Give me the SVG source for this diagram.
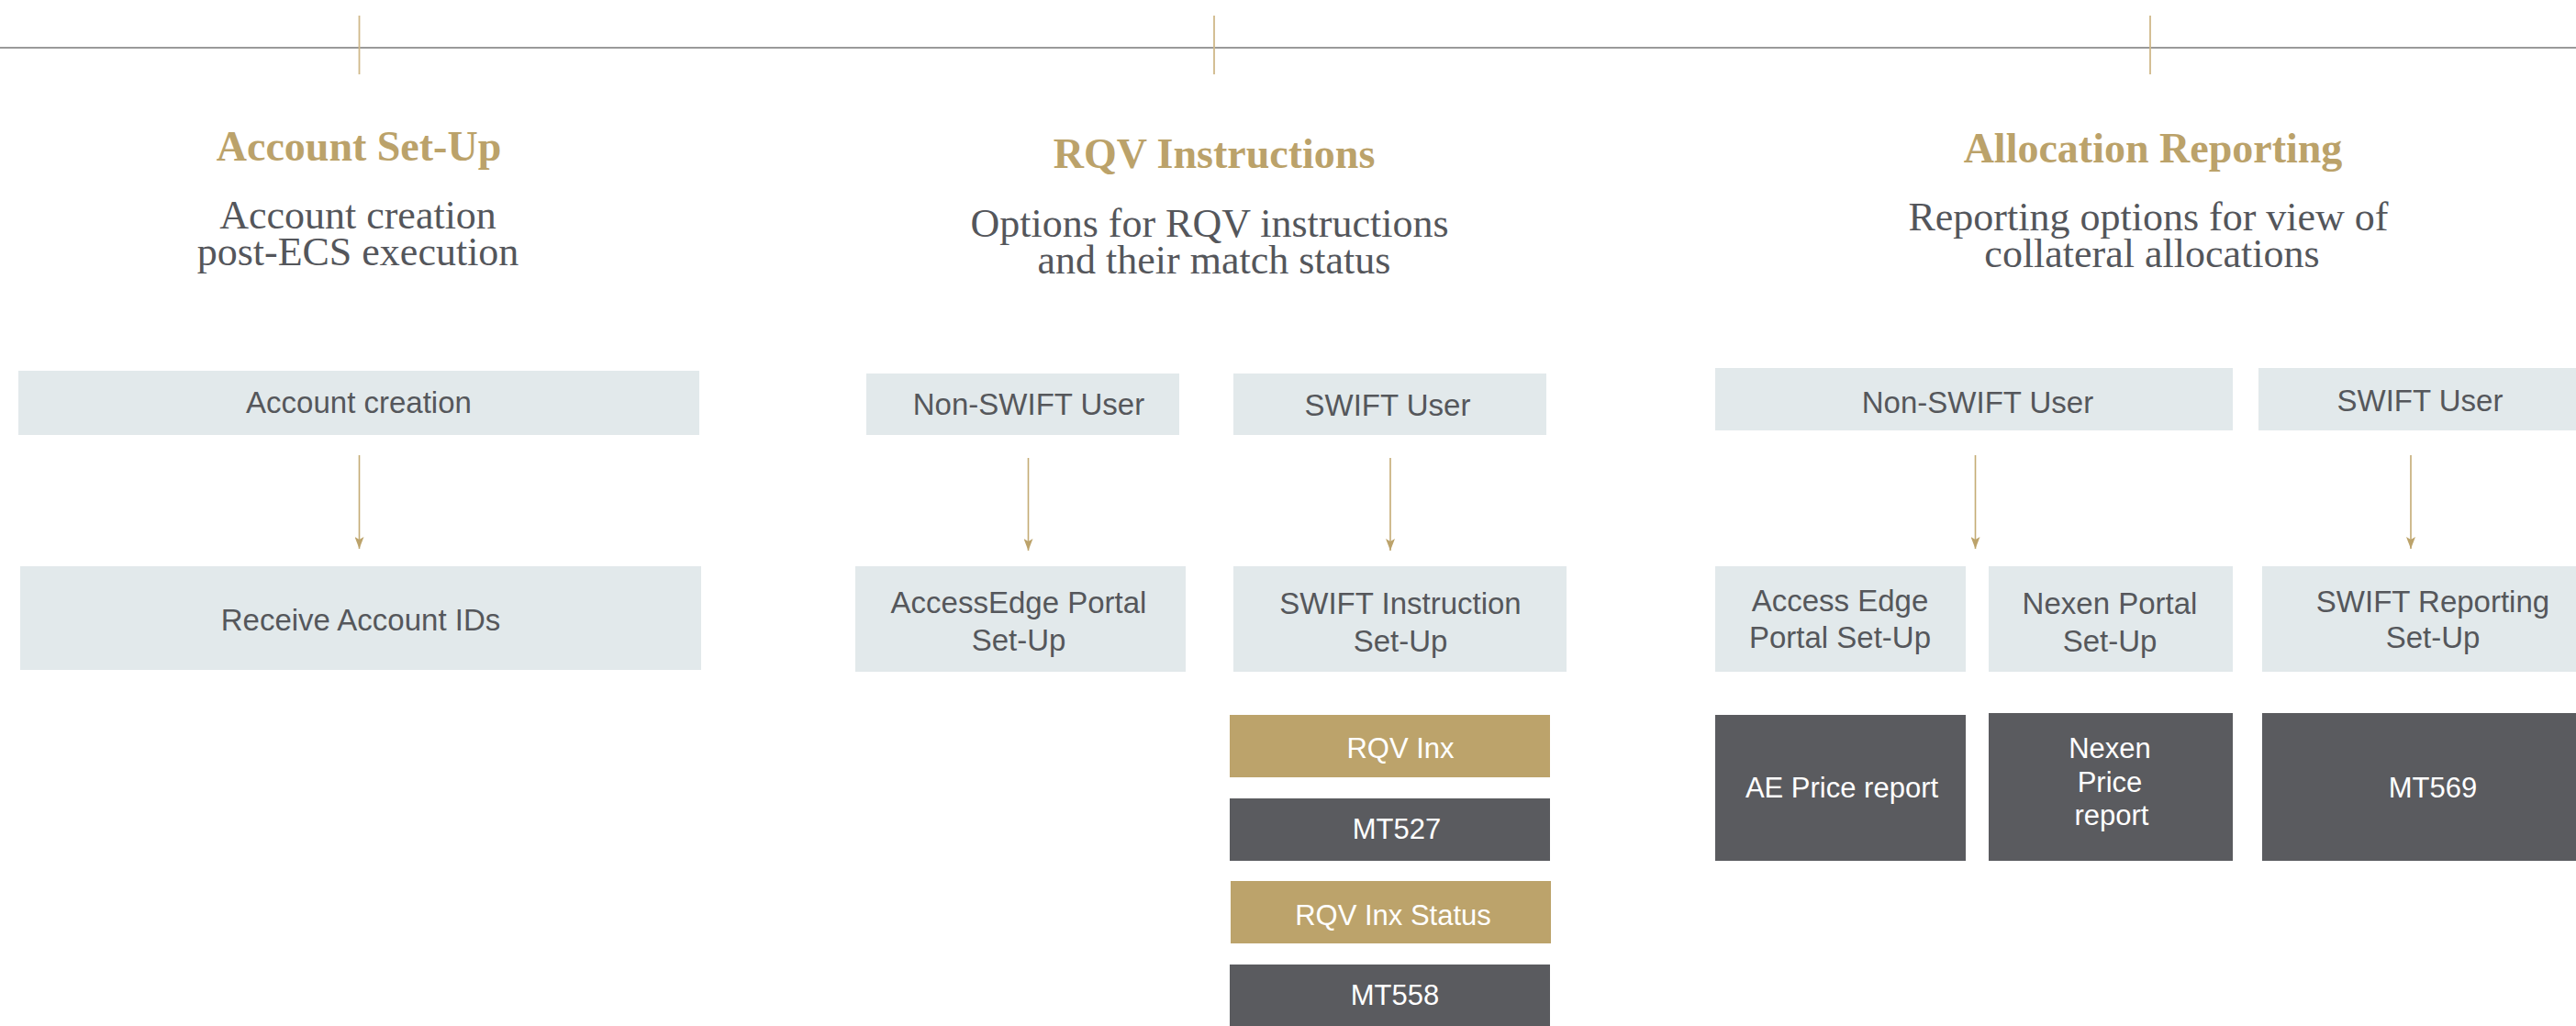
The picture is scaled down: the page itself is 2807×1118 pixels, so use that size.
<svg xmlns="http://www.w3.org/2000/svg" width="2807" height="1118" viewBox="0 0 2807 1118">
<style>
.bg{fill:#ffffff}
.title{font-family:"Liberation Serif","Times New Roman",serif;font-weight:bold;font-size:46px;fill:#BBA26A;text-anchor:middle}
.sub{font-family:"Liberation Serif","Times New Roman",serif;font-size:44px;fill:#54565B;text-anchor:middle}
.light{fill:#E2E9EB}
.gold{fill:#BCA36B}
.dark{fill:#5A5B5F}
.lt{font-family:"Liberation Sans",Arial,sans-serif;font-size:33px;fill:#55575B;text-anchor:middle}
.wt{font-family:"Liberation Sans",Arial,sans-serif;font-size:31px;fill:#ffffff;text-anchor:middle}
.conn{stroke:#C4AB74;stroke-width:1.6;fill:none}
.tick{stroke:#D0B889;stroke-width:1.8;fill:none}
.rule{stroke:#9A9A9A;stroke-width:2;fill:none}
</style>
<defs>
<marker id="arr" viewBox="0 0 13 10" refX="13" refY="5" markerWidth="13" markerHeight="10" markerUnits="userSpaceOnUse" orient="auto">
<path d="M0,0 L13,5 L0,10 L3,5 Z" fill="#BCA36B"/>
</marker>
</defs>
<rect class="bg" x="0" y="0" width="2807" height="1118"/>

<g id="timeline">
<line class="rule" x1="0" y1="52" x2="2807" y2="52"/>
<line class="tick" x1="391.5" y1="17" x2="391.5" y2="81"/>
<line class="tick" x1="1323" y1="17" x2="1323" y2="81"/>
<line class="tick" x1="2343" y1="17" x2="2343" y2="81"/>
</g>

<g id="heading-account">
<text class="title" x="391" y="175">Account Set-Up</text>
<text class="sub"><tspan x="390" y="249">Account creation</tspan><tspan x="390" y="289">post-ECS execution</tspan></text>
</g>
<g id="heading-rqv">
<text class="title" x="1323" y="183">RQV Instructions</text>
<text class="sub"><tspan x="1318" y="258">Options for RQV instructions</tspan><tspan x="1323" y="298">and their match status</tspan></text>
</g>
<g id="heading-alloc">
<text class="title" x="2346" y="177">Allocation Reporting</text>
<text class="sub"><tspan x="2341" y="251">Reporting options for view of</tspan><tspan x="2345" y="291">collateral allocations</tspan></text>
</g>

<g id="connectors">
<line class="conn" x1="391.5" y1="496" x2="391.5" y2="598" marker-end="url(#arr)"/>
<line class="conn" x1="1120.5" y1="499" x2="1120.5" y2="600" marker-end="url(#arr)"/>
<line class="conn" x1="1515" y1="499" x2="1515" y2="600" marker-end="url(#arr)"/>
<line class="conn" x1="2152.5" y1="496" x2="2152.5" y2="598" marker-end="url(#arr)"/>
<line class="conn" x1="2627" y1="496" x2="2627" y2="598" marker-end="url(#arr)"/>
</g>

<g id="account-creation">
<rect class="light" x="20" y="404" width="742" height="70"/>
<text class="lt" x="391" y="450">Account creation</text>
</g>
<g id="receive-account-ids">
<rect class="light" x="22" y="617" width="742" height="113"/>
<text class="lt" x="393" y="687">Receive Account IDs</text>
</g>

<g id="rqv-non-swift-user">
<rect class="light" x="944" y="407" width="341" height="67"/>
<text class="lt" x="1121" y="452">Non-SWIFT User</text>
</g>
<g id="rqv-swift-user">
<rect class="light" x="1344" y="407" width="341" height="67"/>
<text class="lt" x="1512" y="453">SWIFT User</text>
</g>
<g id="accessedge-portal-setup">
<rect class="light" x="932" y="617" width="360" height="115"/>
<text class="lt"><tspan x="1110" y="668">AccessEdge Portal</tspan><tspan x="1110" y="709">Set-Up</tspan></text>
</g>
<g id="swift-instruction-setup">
<rect class="light" x="1344" y="617" width="363" height="115"/>
<text class="lt"><tspan x="1526" y="669">SWIFT Instruction</tspan><tspan x="1526" y="710">Set-Up</tspan></text>
</g>
<g id="rqv-inx">
<rect class="gold" x="1340" y="779" width="349" height="68"/>
<text class="wt" x="1526" y="826">RQV Inx</text>
</g>
<g id="mt527">
<rect class="dark" x="1340" y="870" width="349" height="68"/>
<text class="wt" x="1522" y="914">MT527</text>
</g>
<g id="rqv-inx-status">
<rect class="gold" x="1341" y="960" width="349" height="68"/>
<text class="wt" x="1518" y="1008">RQV Inx Status</text>
</g>
<g id="mt558">
<rect class="dark" x="1340" y="1051" width="349" height="67"/>
<text class="wt" x="1520" y="1095">MT558</text>
</g>

<g id="alloc-non-swift-user">
<rect class="light" x="1869" y="401" width="564" height="68"/>
<text class="lt" x="2155" y="450">Non-SWIFT User</text>
</g>
<g id="alloc-swift-user">
<rect class="light" x="2461" y="401" width="346" height="68"/>
<text class="lt" x="2637" y="448">SWIFT User</text>
</g>
<g id="access-edge-portal-setup">
<rect class="light" x="1869" y="617" width="273" height="115"/>
<text class="lt"><tspan x="2005" y="666">Access Edge</tspan><tspan x="2005" y="706">Portal Set-Up</tspan></text>
</g>
<g id="nexen-portal-setup">
<rect class="light" x="2167" y="617" width="266" height="115"/>
<text class="lt"><tspan x="2299" y="669">Nexen Portal</tspan><tspan x="2299" y="710">Set-Up</tspan></text>
</g>
<g id="swift-reporting-setup">
<rect class="light" x="2465" y="617" width="342" height="115"/>
<text class="lt"><tspan x="2651" y="667">SWIFT Reporting</tspan><tspan x="2651" y="706">Set-Up</tspan></text>
</g>
<g id="ae-price-report">
<rect class="dark" x="1869" y="779" width="273" height="159"/>
<text class="wt" x="2007" y="869">AE Price report</text>
</g>
<g id="nexen-price-report">
<rect class="dark" x="2167" y="777" width="266" height="161"/>
<text class="wt"><tspan x="2299" y="826">Nexen</tspan><tspan x="2299" y="863">Price</tspan><tspan x="2301" y="899">report</tspan></text>
</g>
<g id="mt569">
<rect class="dark" x="2465" y="777" width="342" height="161"/>
<text class="wt" x="2651" y="869">MT569</text>
</g>
</svg>
